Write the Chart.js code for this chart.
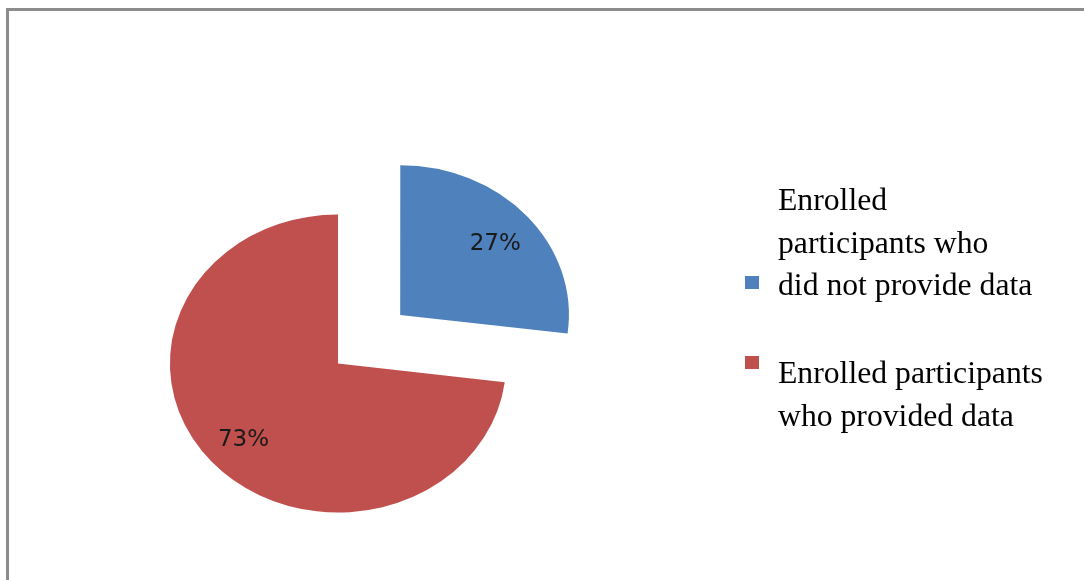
<!DOCTYPE html>
<html lang="en">
<head>
  <meta charset="utf-8">
  <script src="https://cdn.jsdelivr.net/npm/chart.js@4.4.1/dist/chart.umd.min.js"></script>
  <style>
    html, body { margin: 0; padding: 0; background: #fff; overflow: hidden; }
    .page { position: relative; width: 1084px; height: 580px; }
    .frame {
      position: absolute; left: 6px; top: 8px; width: 1200px; height: 700px;
      border-top: 3px solid #8c8c8c; border-left: 3px solid #8c8c8c;
    }
    .chart-box { position: absolute; left: 0; top: 0; width: 1084px; height: 580px; }
    .legend { position: absolute; left: 745px; top: 0; font-family: 'Liberation Serif', 'Times New Roman', serif; font-size: 31.7px; color: #000; }
    .legend .item { position: absolute; left: 0; white-space: nowrap; }
    .legend .swatch { position: absolute; left: 0; width: 14px; height: 13px; }
    .legend .text { position: absolute; left: 33px; line-height: 42.5px; }
  </style>
</head>
<body>
  <div class="page">
    <div class="frame"></div>
    <div class="chart-box"><canvas id="pie"></canvas></div>
    <div class="legend" id="legend"></div>
  </div>

  <script>
    // data
    const categories = [
      'Enrolled participants who did not provide data',
      'Enrolled participants who provided data'
    ];
    const legendLines = [
      ['Enrolled', 'participants who', 'did not provide data'],
      ['Enrolled participants', 'who provided data']
    ];
    const values = [27, 73];
    const colors = ['#4f81bd', '#c0504d'];

    // pie is drawn as an ellipse (wider than tall)
    const stretchX = 1.128;

    const ellipsePlugin = {
      id: 'ellipse',
      beforeDatasetsDraw(chart) {
        const a = chart.chartArea;
        const cx = (a.left + a.right) / 2;
        const ctx = chart.ctx;
        ctx.save();
        ctx.translate(cx, 0);
        ctx.scale(stretchX, 1);
        ctx.translate(-cx, 0);
      },
      afterDatasetsDraw(chart) {
        const ctx = chart.ctx;
        ctx.restore();
        const a = chart.chartArea;
        const cx = (a.left + a.right) / 2;
        const meta = chart.getDatasetMeta(0);
        const total = values.reduce((s, v) => s + v, 0);
        ctx.save();
        ctx.font = '23px "DejaVu Sans", sans-serif';
        ctx.fillStyle = '#1a1a1a';
        ctx.textAlign = 'center';
        ctx.textBaseline = 'middle';
        meta.data.forEach((arc, i) => {
          const p = arc.getProps(['x', 'y', 'startAngle', 'endAngle', 'outerRadius', 'circumference']);
          const mid = (p.startAngle + p.endAngle) / 2;
          const off = (arc.options.offset || 0) / 4;
          const fix = 1 - Math.sin(Math.min(Math.PI, p.circumference));
          const r = p.outerRadius * 0.75 + off + off * fix;
          const x = p.x + Math.cos(mid) * r;
          const y = p.y + Math.sin(mid) * r + 3;
          const label = Math.round(values[i] / total * 100) + '%';
          ctx.fillText(label, cx + (x - cx) * stretchX, y);
        });
        ctx.restore();
      }
    };

    new Chart(document.getElementById('pie'), {
      type: 'pie',
      data: {
        labels: categories,
        datasets: [{
          data: values,
          backgroundColor: colors,
          borderWidth: 0,
          offset: [294, 0],
          hoverOffset: 0
        }]
      },
      options: {
        responsive: true,
        maintainAspectRatio: false,
        animation: false,
        radius: 149,
        layout: { padding: { left: 0, right: 408, top: 147, bottom: 0 } },
        plugins: {
          legend: { display: false },
          tooltip: { enabled: false }
        },
        events: []
      },
      plugins: [ellipsePlugin]
    });

    // legend on the right
    const legendEl = document.getElementById('legend');
    const itemTops = [179, 352];
    const swatchTops = [276, 356];
    legendLines.forEach((lines, i) => {
      const item = document.createElement('div');
      item.className = 'item';
      item.style.top = '0px';
      const sw = document.createElement('div');
      sw.className = 'swatch';
      sw.style.top = swatchTops[i] + 'px';
      sw.style.background = colors[i];
      const tx = document.createElement('div');
      tx.className = 'text';
      tx.style.top = itemTops[i] + 'px';
      tx.innerHTML = lines.join('<br>');
      item.appendChild(sw);
      item.appendChild(tx);
      legendEl.appendChild(item);
    });
  </script>
</body>
</html>
